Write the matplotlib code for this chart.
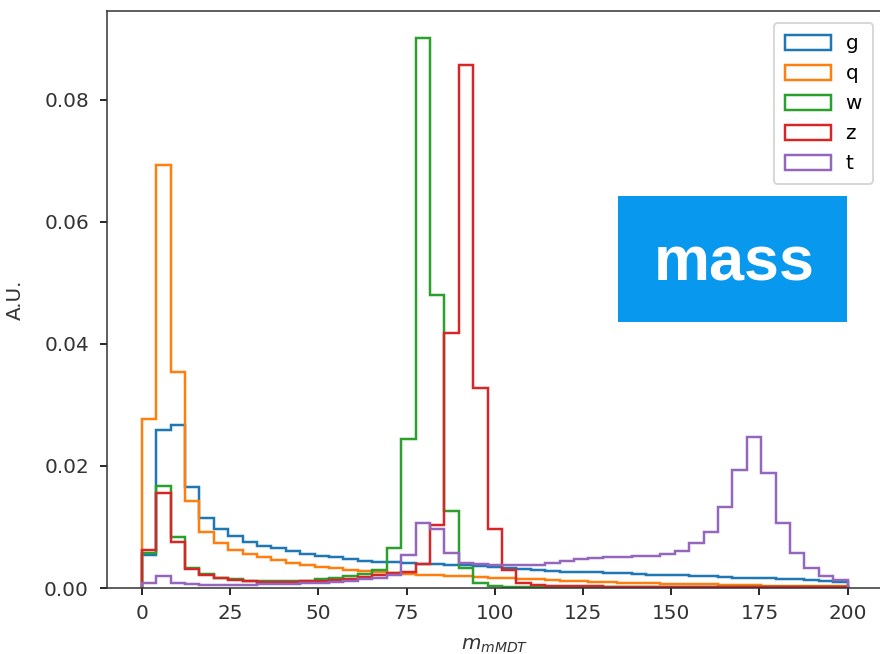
import numpy as np
import matplotlib
matplotlib.use("Agg")
import matplotlib.pyplot as plt
from matplotlib.patches import Rectangle

edges = np.linspace(0, 200, 50)

labels = ["g", "q", "w", "z", "t"]

g_vals = [0.0054, 0.0259, 0.0267, 0.0166, 0.0114, 0.0096, 0.0085, 0.0076, 0.0069, 0.0065,
          0.0060, 0.0056, 0.0053, 0.0050, 0.0047, 0.0045, 0.0043, 0.0042, 0.0041, 0.0040,
          0.0039, 0.0038, 0.0037, 0.0036, 0.0035, 0.0033, 0.0031, 0.0029, 0.0028, 0.0027,
          0.0027, 0.0026, 0.0025, 0.0024, 0.0023, 0.0022, 0.0022, 0.0021, 0.0020, 0.0019,
          0.0018, 0.0017, 0.0016, 0.0016, 0.0015, 0.0014, 0.0013, 0.0012, 0.0010]

q_vals = [0.0277, 0.0693, 0.0354, 0.0143, 0.0092, 0.0073, 0.0062, 0.0056, 0.0050, 0.0046,
          0.0041, 0.0038, 0.0035, 0.0032, 0.0030, 0.0028, 0.0026, 0.0024, 0.0023, 0.0022,
          0.0021, 0.0020, 0.0019, 0.0018, 0.0017, 0.0016, 0.0015, 0.0014, 0.0013, 0.0012,
          0.0011, 0.0010, 0.0010, 0.0009, 0.0008, 0.0008, 0.0007, 0.0007, 0.0006, 0.0006,
          0.0005, 0.0005, 0.0005, 0.0004, 0.0004, 0.0004, 0.0003, 0.0003, 0.0003]

w_vals = [0.0058, 0.0167, 0.0083, 0.0033, 0.0023, 0.0017, 0.0014, 0.0012, 0.0011, 0.0011,
          0.0011, 0.0012, 0.0014, 0.0016, 0.0019, 0.0023, 0.0030, 0.0065, 0.0244, 0.0901,
          0.0480, 0.0126, 0.0032, 0.0008, 0.0003, 0.0001, 0.0001, 0.0001, 0.0001, 0.0001,
          0.0001, 0.0001, 0.0001, 0.0001, 0.0001, 0.0001, 0.0001, 0.0001, 0.0001, 0.0001,
          0.0001, 0.0001, 0.0001, 0.0001, 0.0001, 0.0001, 0.0001, 0.0001, 0.0001]

z_vals = [0.0062, 0.0156, 0.0076, 0.0031, 0.0021, 0.0016, 0.0013, 0.0011, 0.0010, 0.0010,
          0.0010, 0.0011, 0.0012, 0.0013, 0.0015, 0.0018, 0.0021, 0.0025, 0.0027, 0.0040,
          0.0103, 0.0418, 0.0856, 0.0327, 0.0097, 0.0030, 0.0009, 0.0005, 0.0004, 0.0003,
          0.0003, 0.0003, 0.0002, 0.0002, 0.0002, 0.0002, 0.0002, 0.0002, 0.0002, 0.0002,
          0.0002, 0.0002, 0.0002, 0.0002, 0.0002, 0.0002, 0.0002, 0.0002, 0.0002]

t_vals = [0.0009, 0.0020, 0.0009, 0.0006, 0.0005, 0.0005, 0.0005, 0.0005, 0.0006, 0.0006,
          0.0007, 0.0008, 0.0009, 0.0010, 0.0012, 0.0014, 0.0017, 0.0022, 0.0054, 0.0106,
          0.0096, 0.0058, 0.0041, 0.0039, 0.0038, 0.0037, 0.0037, 0.0038, 0.0041, 0.0044,
          0.0047, 0.0049, 0.0050, 0.0051, 0.0052, 0.0053, 0.0056, 0.0060, 0.0074, 0.0092,
          0.0132, 0.0193, 0.0248, 0.0188, 0.0107, 0.0058, 0.0032, 0.0020, 0.0013]

series = [g_vals, q_vals, w_vals, z_vals, t_vals]

W, H = 880, 654
dpi = 137.5
fig = plt.figure(figsize=(W / dpi, H / dpi), dpi=dpi)
left_px, right_px, top_px, bottom_px = 106.5, 883.0, 11.0, 588.0
ax = fig.add_axes([left_px / W, (H - bottom_px) / H,
                   (right_px - left_px) / W, (bottom_px - top_px) / H])

starts = edges[:-1]
for lab, vals in zip(labels, series):
    ax.hist(starts, bins=edges, weights=vals, histtype="step", label=lab, linewidth=1.3)

ax.set_xlim(-10, 210)
ax.set_ylim(0, 0.0945)
ax.set_xticks([0, 25, 50, 75, 100, 125, 150, 175, 200])
ax.set_yticks([0.00, 0.02, 0.04, 0.06, 0.08])
ax.tick_params(axis="both", labelsize=10.5, length=3.7, width=1.0, colors="#222222",
               labelcolor="#333333")
ax.tick_params(axis="y", pad=5.5)
ax.tick_params(axis="x", pad=4.5)
for sp in ax.spines.values():
    sp.set_color("#333333")
ax.set_ylabel("A.U.", fontsize=10.5, labelpad=10, color="#333333")
ax.set_xlabel(r"$m_{mMDT}$", fontsize=10.5, labelpad=7, color="#333333")

leg = ax.legend(loc="upper right", bbox_to_anchor=(0.987, 0.979), borderaxespad=0,
                fontsize=10.5, handlelength=2.3, handleheight=0.8, labelspacing=0.55,
                borderpad=0.55, handletextpad=0.7)

fig.patches.append(Rectangle((618 / W, 1 - 322 / H), (847 - 618) / W, (322 - 196) / H,
                             transform=fig.transFigure, facecolor="#0898EE",
                             edgecolor="none", zorder=5))
fig.text(734 / W, 1 - 264 / H, "mass", color="white", fontsize=33,
         fontweight="bold", family=["Liberation Sans", "DejaVu Sans"],
         ha="center", va="center", zorder=6)

fig.savefig("out.png", dpi=dpi)
